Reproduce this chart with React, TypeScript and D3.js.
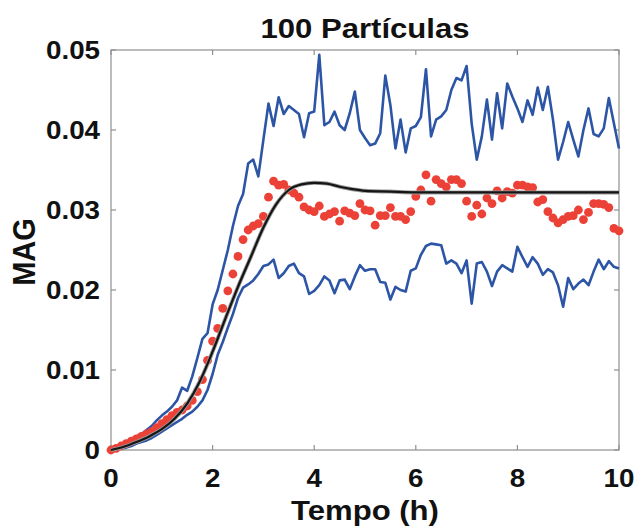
import React, { useEffect, useRef } from 'react';
import * as d3 from 'd3';

// tempo (h), one sample every 0.1 h
const tempo = d3.range(101).map(i => i / 10);

// mean MAG over the 100 particles (red dots)
const magMedio = [
  0.0000, 0.0002, 0.0005, 0.0008, 0.0011, 0.0014, 0.0017, 0.0020, 0.0023, 0.0028,
  0.0033, 0.0038, 0.0043, 0.0047, 0.0050, 0.0055, 0.0062, 0.0073, 0.0088, 0.0112,
  0.0136, 0.0152, 0.0177, 0.0199, 0.0220, 0.0242, 0.0263, 0.0275, 0.0280, 0.0283,
  0.0292, 0.0316, 0.0336, 0.0331, 0.0332, 0.0325, 0.0321, 0.0316, 0.0304, 0.0300,
  0.0298, 0.0305, 0.0292, 0.0295, 0.0298, 0.0286, 0.0299, 0.0296, 0.0293, 0.0308,
  0.0300, 0.0299, 0.0281, 0.0293, 0.0293, 0.0303, 0.0292, 0.0292, 0.0288, 0.0298,
  0.0317, 0.0325, 0.0344, 0.0311, 0.0338, 0.0333, 0.0329, 0.0338, 0.0338, 0.0333,
  0.0311, 0.0292, 0.0306, 0.0295, 0.0315, 0.0308, 0.0324, 0.0315, 0.0323, 0.0321,
  0.0331, 0.0331, 0.0329, 0.0328, 0.0310, 0.0313, 0.0298, 0.0290, 0.0284, 0.0288,
  0.0292, 0.0293, 0.0300, 0.0288, 0.0297, 0.0308, 0.0308, 0.0307, 0.0303, 0.0277,
  0.0274,
];

// upper band (blue)
const magSuperior = [
  0.0000, 0.0004, 0.0007, 0.0010, 0.0014, 0.0017, 0.0020, 0.0025, 0.0030, 0.0037,
  0.0043, 0.0048, 0.0054, 0.0062, 0.0078, 0.0074, 0.0092, 0.0115, 0.0139, 0.0146,
  0.0182, 0.0200, 0.0225, 0.0250, 0.0280, 0.0305, 0.0320, 0.0358, 0.0363, 0.0342,
  0.0388, 0.0433, 0.0405, 0.0441, 0.0420, 0.0430, 0.0425, 0.0420, 0.0391, 0.0421,
  0.0423, 0.0494, 0.0406, 0.0410, 0.0423, 0.0406, 0.0400, 0.0421, 0.0448, 0.0400,
  0.0390, 0.0381, 0.0383, 0.0396, 0.0468, 0.0431, 0.0377, 0.0413, 0.0372, 0.0402,
  0.0405, 0.0416, 0.0476, 0.0392, 0.0413, 0.0417, 0.0425, 0.0450, 0.0465, 0.0462,
  0.0480, 0.0408, 0.0363, 0.0392, 0.0438, 0.0388, 0.0446, 0.0402, 0.0458, 0.0442,
  0.0427, 0.0410, 0.0437, 0.0419, 0.0453, 0.0425, 0.0454, 0.0413, 0.0363, 0.0385,
  0.0410, 0.0388, 0.0367, 0.0400, 0.0427, 0.0395, 0.0392, 0.0402, 0.0440, 0.0408,
  0.0377,
];

// lower band (blue)
const magInferior = [
  0.0000, 0.0001, 0.0002, 0.0003, 0.0005, 0.0008, 0.0010, 0.0012, 0.0015, 0.0019,
  0.0023, 0.0027, 0.0031, 0.0035, 0.0039, 0.0044, 0.0048, 0.0054, 0.0062, 0.0075,
  0.0095, 0.0119, 0.0135, 0.0153, 0.0170, 0.0190, 0.0203, 0.0207, 0.0212, 0.0220,
  0.0230, 0.0232, 0.0238, 0.0215, 0.0221, 0.0230, 0.0233, 0.0221, 0.0217, 0.0195,
  0.0199, 0.0206, 0.0217, 0.0212, 0.0196, 0.0212, 0.0213, 0.0201, 0.0217, 0.0231,
  0.0224, 0.0226, 0.0226, 0.0210, 0.0209, 0.0188, 0.0204, 0.0200, 0.0198, 0.0224,
  0.0227, 0.0244, 0.0255, 0.0258, 0.0257, 0.0256, 0.0233, 0.0237, 0.0233, 0.0221,
  0.0237, 0.0183, 0.0233, 0.0235, 0.0223, 0.0205, 0.0223, 0.0231, 0.0227, 0.0223,
  0.0254, 0.0241, 0.0229, 0.0241, 0.0233, 0.0219, 0.0226, 0.0222, 0.0206, 0.0179,
  0.0215, 0.0201, 0.0208, 0.0213, 0.0206, 0.0223, 0.0238, 0.0226, 0.0236, 0.0229,
  0.0227,
];

// model curve (black)
const modeloTempo = [0, 0.25, 0.5, 0.75, 1, 1.25, 1.5, 1.75, 2, 2.25, 2.5, 2.75, 3, 3.25, 3.5, 3.75, 4, 4.25, 4.5, 4.75, 5, 5.5, 6, 7, 8, 9, 10];
const modeloMAG = [0, 0.0004, 0.001, 0.0017, 0.0026, 0.0039, 0.0058, 0.0086, 0.0123, 0.0164, 0.0204, 0.0241, 0.0278, 0.0307, 0.0325, 0.0332, 0.0334, 0.0333, 0.0329, 0.0326, 0.0324, 0.0323, 0.0322, 0.0322, 0.0322, 0.0322, 0.0322];

const xTicks = [0, 2, 4, 6, 8, 10];
const yTicks = [0, 0.01, 0.02, 0.03, 0.04, 0.05];
const yTickLabels = ['0', '0.01', '0.02', '0.03', '0.04', '0.05'];

const FONT = '"Liberation Sans", Arial, Helvetica, sans-serif';
const STRETCH = 1.11;

export default function App() {
  const ref = useRef<SVGSVGElement>(null);

  useEffect(() => {
    const margin = { top: 50, right: 17, bottom: 77, left: 111 };
    const W = 636;
    const H = 527;
    const width = W - margin.left - margin.right;
    const height = H - margin.top - margin.bottom;

    const svg = d3.select(ref.current);
    svg.selectAll('*').remove();

    const x = d3.scaleLinear().domain([0, 10]).range([margin.left, margin.left + width]);
    const y = d3.scaleLinear().domain([0, 0.05]).range([margin.top + height, margin.top]);

    const addText = (txt: string, tx: number, ty: number, size: number, anchor: string, rotate = false) => {
      svg
        .append('text')
        .attr('transform', `translate(${tx},${ty}) scale(${STRETCH},1)` + (rotate ? ' rotate(-90)' : ''))
        .attr('text-anchor', anchor)
        .style('font-family', FONT)
        .style('font-weight', 'bold')
        .style('font-size', size + 'px')
        .style('fill', '#111')
        .text(txt);
    };

    // box and inward ticks
    const frame = svg.append('g').attr('stroke', '#8f8f8f').attr('stroke-width', 1.2).attr('fill', 'none');
    frame
      .append('rect')
      .attr('x', margin.left)
      .attr('y', margin.top)
      .attr('width', width)
      .attr('height', height);
    xTicks.forEach(t => {
      frame.append('line').attr('x1', x(t)).attr('x2', x(t)).attr('y1', y(0)).attr('y2', y(0) - 5);
      frame.append('line').attr('x1', x(t)).attr('x2', x(t)).attr('y1', y(0.05)).attr('y2', y(0.05) + 5);
    });
    yTicks.forEach(t => {
      frame.append('line').attr('x1', x(0)).attr('x2', x(0) + 5).attr('y1', y(t)).attr('y2', y(t));
      frame.append('line').attr('x1', x(10)).attr('x2', x(10) - 5).attr('y1', y(t)).attr('y2', y(t));
    });

    // tick labels
    xTicks.forEach(t => addText(String(t), x(t), 487, 25, 'middle'));
    yTicks.forEach((t, i) => addText(yTickLabels[i], 100, y(t) + 9, 25, 'end'));

    // titles
    addText('100 Partículas', (margin.left + margin.left + width) / 2, 38, 28, 'middle');
    addText('Tempo (h)', (margin.left + margin.left + width) / 2, 520, 28, 'middle');
    addText('MAG', 35, margin.top + height / 2 + 2, 29, 'middle', true);

    // blue bands
    const banda = d3
      .line<number>()
      .x((_, i) => x(tempo[i]))
      .y(d => y(d));
    [magSuperior, magInferior].forEach(serie => {
      svg
        .append('path')
        .datum(serie)
        .attr('d', banda)
        .attr('fill', 'none')
        .attr('stroke', '#2d55a6')
        .attr('stroke-width', 2.6)
        .attr('stroke-linejoin', 'round');
    });

    // red dots
    svg
      .append('g')
      .selectAll('circle')
      .data(magMedio)
      .enter()
      .append('circle')
      .attr('cx', (_, i) => x(tempo[i]))
      .attr('cy', d => y(d))
      .attr('r', 4.4)
      .style('fill', '#ec4137');

    // model curve
    const modelo = d3
      .line<number>()
      .x((_, i) => x(modeloTempo[i]))
      .y(d => y(d))
      .curve(d3.curveMonotoneX);
    svg
      .append('path')
      .datum(modeloMAG)
      .attr('d', modelo)
      .attr('fill', 'none')
      .attr('stroke', '#9a9a9a')
      .attr('stroke-width', 4);
    svg
      .append('path')
      .datum(modeloMAG)
      .attr('d', modelo)
      .attr('fill', 'none')
      .attr('stroke', '#151515')
      .attr('stroke-width', 2.2);
  }, []);

  return (
    <svg
      ref={ref}
      width={636}
      height={527}
      style={{ position: 'absolute', left: 0, top: 0, background: '#fff' }}
    />
  );
}
